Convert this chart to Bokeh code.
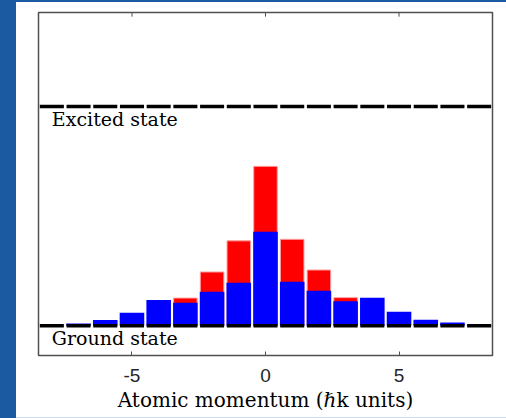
from bokeh.plotting import figure
from bokeh.models import FixedTicker, Range1d, Div
from bokeh.layouts import row, column
from bokeh.core.properties import value
from bokeh.embed import file_html
from bokeh.resources import INLINE

# Data
momentum = [-8, -7, -6, -5, -4, -3, -2, -1, 0, 1, 2, 3, 4, 5, 6, 7, 8]
ground_pop = [0.0, 0.10, 0.26, 0.59, 1.17, 1.05, 1.55, 1.96, 4.29, 2.00, 1.60, 1.11, 1.28, 0.64, 0.27, 0.14, 0.02]
total_pop = [0.0, 0.10, 0.26, 0.59, 1.17, 1.26, 2.45, 3.87, 7.27, 3.94, 2.54, 1.28, 1.28, 0.64, 0.27, 0.14, 0.02]
ground_level = 0.0
excited_level = 10.0
x_ticks = [-5, 0, 5]
x_tick_labels = ["-5", "0", "5"]
x_label = "Atomic momentum (\u210fk units)"
level_labels = ["Excited state", "Ground state"]

SERIF = "DejaVu Serif"
SANS = "Liberation Sans"
BLUE_BG = "#1b5aa1"
Y0, Y1 = -1.36, 14.29

p = figure(width=490, height=415, output_backend="svg", toolbar_location=None,
           x_range=Range1d(-8.5, 8.5), y_range=Range1d(Y0, Y1),
           min_border_left=22, min_border_right=14, min_border_top=10, min_border_bottom=62,
           background_fill_color="white", border_fill_color="white")

p.grid.visible = False
p.yaxis.visible = False
p.outline_line_color = "#505050"
p.outline_line_width = 1.5

# bars: total (red) behind, only where it exceeds the ground population; ground (blue) in front
red_x = [m for m, t, g in zip(momentum, total_pop, ground_pop) if t > g]
red_top = [t for t, g in zip(total_pop, ground_pop) if t > g]
p.vbar(x=red_x, top=red_top, bottom=ground_level, width=0.88,
       fill_color="#ff0000", line_color="#ff9c9c", line_width=1)
p.vbar(x=momentum, top=ground_pop, bottom=ground_level, width=0.92,
       fill_color="#0000ff", line_color=None)

# dashed levels drawn as one segment per momentum bin
x0 = [m - 0.45 for m in momentum]
x1 = [m + 0.45 for m in momentum]
for lvl in (ground_level, excited_level):
    p.segment(x0=x0, x1=x1, y0=[lvl] * len(momentum), y1=[lvl] * len(momentum),
              line_color="black", line_width=3.6, line_cap="butt")

# top-edge inner ticks (box style)
p.segment(x0=x_ticks, x1=x_ticks, y0=[Y1] * len(x_ticks), y1=[Y1 - 0.19] * len(x_ticks),
          line_color="#505050", line_width=1)

# level labels
p.text(x=[momentum[0], momentum[0]], y=[excited_level - 0.95, ground_level - 0.91],
       text=level_labels, text_font=value(SERIF), text_font_size="19px",
       text_align="left", text_baseline="alphabetic", text_color="black", y_offset=-8)

xa = p.xaxis[0]
xa.ticker = FixedTicker(ticks=x_ticks)
xa.major_label_overrides = {t: s for t, s in zip(x_ticks, x_tick_labels)}
xa.axis_label = x_label
xa.axis_label_text_font = SERIF
xa.axis_label_text_font_style = "normal"
xa.axis_label_text_font_size = "20px"
xa.axis_label_text_color = "black"
xa.axis_label_standoff = 3
xa.major_label_text_font = SANS
xa.major_label_text_font_size = "19px"
xa.major_label_text_color = "#262626"
xa.major_label_standoff = 13
xa.major_tick_in = 4
xa.major_tick_out = 0
xa.minor_tick_line_color = None
xa.major_tick_line_color = "#505050"
xa.axis_line_color = None

top_strip = Div(width=506, height=2, margin=(0, 0, 0, 0), styles={"background-color": BLUE_BG})
left_strip = Div(width=16, height=416, margin=(0, 0, 0, 0), styles={"background-color": BLUE_BG})
bottom_line = Div(width=490, height=1, margin=(0, 0, 0, 0), styles={"background-color": "#cfdcec"})

layout = column(top_strip, row(left_strip, column(p, bottom_line, spacing=0), spacing=0), spacing=0)

open("out.html", "w").write(file_html(layout, INLINE))
